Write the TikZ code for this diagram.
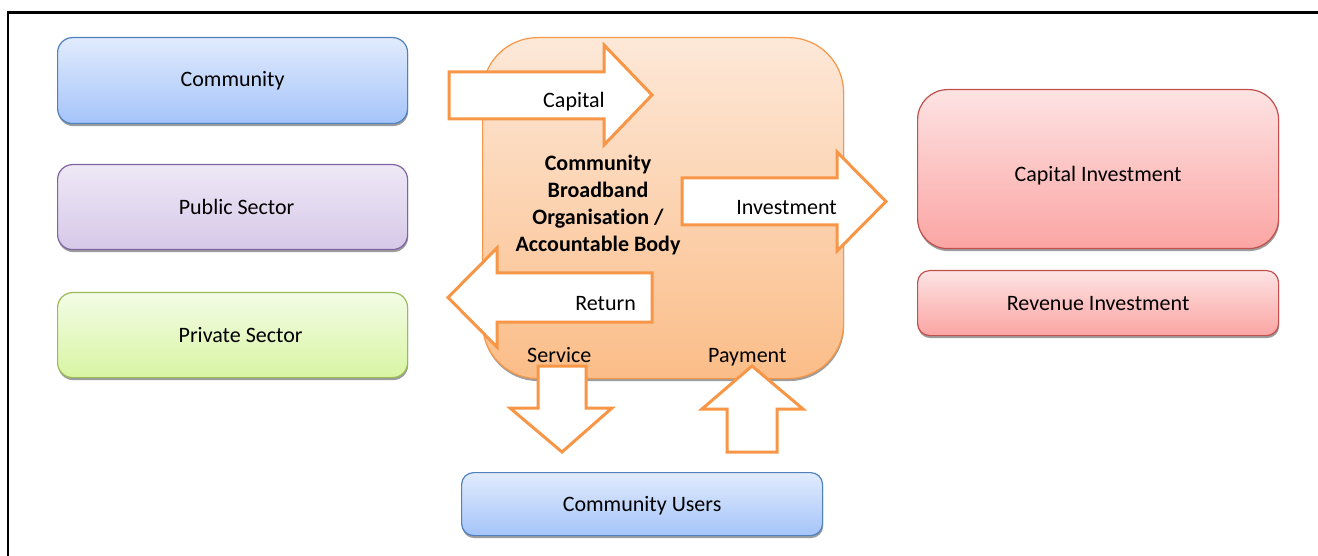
\documentclass[tikz,border=0pt]{standalone}
\usepackage{fontspec}
\setmainfont{Carlito}[Ligatures={NoCommon,NoContextual},Contextuals=NoAlternate]
\usetikzlibrary{shadows}
\definecolor{bluetop}{HTML}{E1EBFC}
\definecolor{bluebot}{HTML}{A5C4FA}
\definecolor{blueline}{HTML}{4F81BD}
\definecolor{purtop}{HTML}{EEE8F6}
\definecolor{purbot}{HTML}{D6C8E8}
\definecolor{purline}{HTML}{8064A2}
\definecolor{grntop}{HTML}{F3FCE6}
\definecolor{grnbot}{HTML}{D8F5A2}
\definecolor{grnline}{HTML}{9BBB59}
\definecolor{redtop}{HTML}{FDE3E3}
\definecolor{redbot}{HTML}{FBA5A3}
\definecolor{redline}{HTML}{C0504D}
\definecolor{orgtop}{HTML}{FDE8D8}
\definecolor{orgbot}{HTML}{FBBD88}
\definecolor{orgline}{HTML}{F79646}
\begin{document}
\begin{tikzpicture}[x=1pt,y=-1pt,font=\fontsize{22}{27}\selectfont,
  box/.style={draw,line width=1.2pt,anchor=north west,inner sep=0pt,
    drop shadow={shadow xshift=0.6pt,shadow yshift=-2.5pt,fill=black!70,opacity=0.55}},
  bluebox/.style={box,draw=blueline,top color=bluetop,bottom color=bluebot},
  purbox/.style={box,draw=purline,top color=purtop,bottom color=purbot},
  grnbox/.style={box,draw=grnline,top color=grntop,bottom color=grnbot},
  redbox/.style={box,draw=redline,top color=redtop,bottom color=redbot},
  orgbox/.style={box,draw=orgline,top color=orgtop,bottom color=orgbot},
  blockarrow/.style={draw=orgline,fill=white,line width=3pt,line join=miter},
  lbl/.style={inner sep=0pt}
]
\useasboundingbox (0,0) rectangle (1318,556);
\draw[line width=2.6pt] (8,556) -- (8,12.5) -- (1318,12.5);

% left boxes
\node[bluebox,rounded corners=15pt,minimum width=350pt,minimum height=86pt] (community) at (57,37) {Community};
\node[purbox,rounded corners=15pt,minimum width=350pt,minimum height=85pt] (public) at (57,164) {\hspace*{8pt}Public Sector};
\node[grnbox,rounded corners=15pt,minimum width=350pt,minimum height=85pt] (private) at (57,292) {\hspace*{16pt}Private Sector};

% central organisation
\node[orgbox,rounded corners=55pt,minimum width=361pt,minimum height=341pt] (org) at (482,37) {};
\node[lbl,align=center,font=\fontsize{22}{26.7}\selectfont\bfseries] (orgtext) at (598,205)
  {Community\\Broadband\\Organisation /\\Accountable Body};

% right boxes
\node[redbox,rounded corners=30pt,minimum width=361pt,minimum height=159pt] (capinv) at (917,89) {\raisebox{-7pt}[\height][\depth]{Capital Investment}};
\node[redbox,rounded corners=12pt,minimum width=361pt,minimum height=65pt] (revinv) at (917,270) {Revenue Investment};

% bottom box
\node[bluebox,rounded corners=12pt,minimum width=361pt,minimum height=63pt] (users) at (461,472) {\raisebox{-2pt}[\height][\depth]{Community Users}};

% block arrows
\draw[blockarrow] (449,72) -- (604,72) -- (604,45) -- (652,95) -- (604,145) -- (604,119) -- (449,119) -- cycle;
\draw[blockarrow] (682,178) -- (837,178) -- (837,152) -- (886,201.5) -- (837,251) -- (837,225) -- (682,225) -- cycle;
\draw[blockarrow] (652,273) -- (497,273) -- (497,248) -- (448,297.5) -- (497,347) -- (497,322) -- (652,322) -- cycle;
\draw[blockarrow] (538,366) -- (586,366) -- (586,408) -- (612,408) -- (562,452) -- (510,408) -- (538,408) -- cycle;
\draw[blockarrow] (752,366) -- (803,409) -- (777,409) -- (777,452) -- (727,452) -- (727,409) -- (702,409) -- cycle;

% arrow labels
\node[lbl,anchor=base east] (lcapital) at (605,108) {Capital};
\node[lbl,anchor=base east] (linvest) at (837,215) {Investment};
\node[lbl,anchor=base east] (lreturn) at (636,310) {Return};
\node[lbl,anchor=base west] (lservice) at (527,362) {Service};
\node[lbl,anchor=base west] (lpayment) at (708,362) {Payment};
\end{tikzpicture}
\end{document}
